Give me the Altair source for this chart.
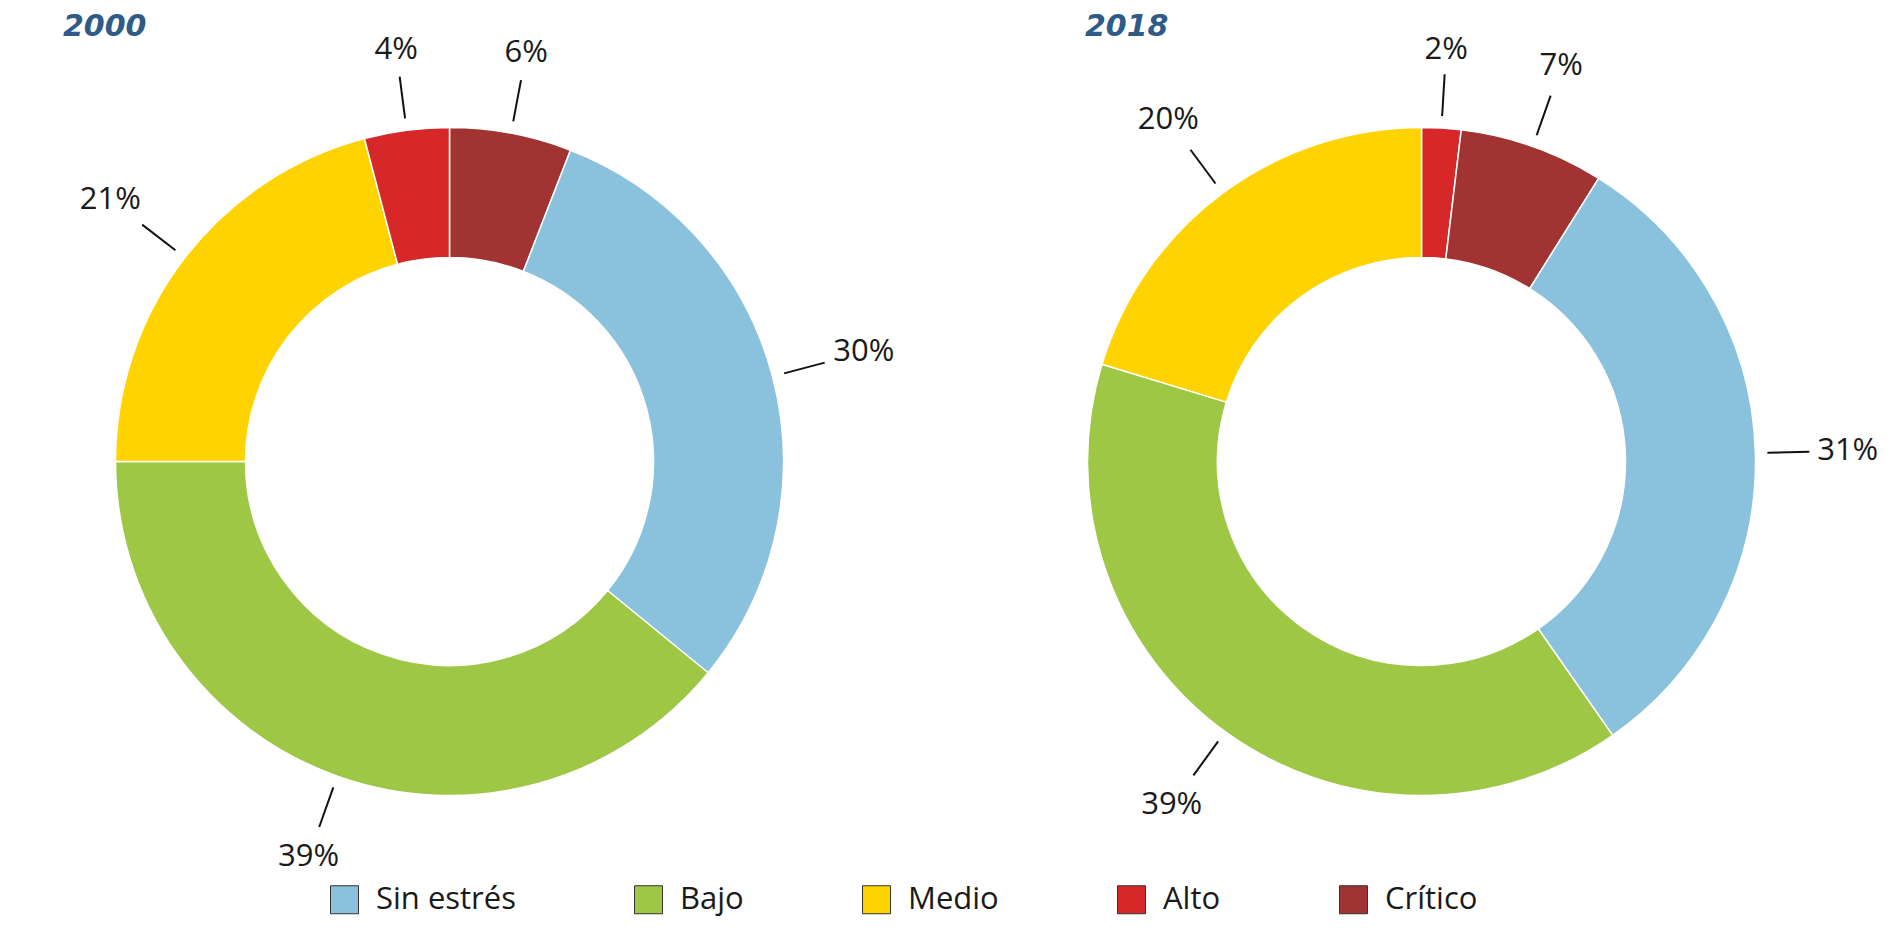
import math
import altair as alt
import numpy as np
import pandas as pd

# ---- data ----
categories = ["Sin estrés", "Bajo", "Medio", "Alto", "Crítico"]
colors = ["#8AC1DC", "#9DC744", "#FFD300", "#D62828", "#A13332"]
share_2000 = [30.0, 39.1, 20.9, 4.1, 5.9]
share_2018 = [31.4, 39.4, 20.3, 1.9, 7.0]
# position of each slice, clockwise from 12 o'clock
order_2000 = [1, 2, 3, 4, 0]
order_2018 = [2, 3, 4, 0, 1]
years = ["2000", "2018"]

# ---- layout constants ----
W, H = 873, 823
R_OUT, R_IN = 334, 204
R_L1, R_L2 = 346, 388      # leader line radii
R_T, HW, HH = 398, 28, 13  # label anchor radius and half text box


def frame(shares, order):
    df = pd.DataFrame({"cat": categories, "share": shares, "ord": order})
    df = df.sort_values("ord").reset_index(drop=True)
    total = df["share"].sum()
    mid = (df["share"].cumsum() - df["share"] / 2) / total * 2 * math.pi
    s, c = np.sin(mid), np.cos(mid)
    df["x1"], df["y1"] = R_L1 * s, R_L1 * c
    df["x2"], df["y2"] = R_L2 * s, R_L2 * c
    rt = R_T + np.abs(s) * HW + np.abs(c) * HH
    df["xt"], df["yt"] = rt * s, rt * c
    df["label"] = [f"{round(v)}%" for v in df["share"]]
    return df


def panel(df, title, dx):
    base = alt.Chart(df)
    xs = alt.Scale(domain=[-W / 2, W / 2], nice=False, zero=False)
    ys = alt.Scale(domain=[-H / 2, H / 2], nice=False, zero=False)
    arcs = base.mark_arc(
        outerRadius=R_OUT, innerRadius=R_IN, stroke="white", strokeWidth=1.5
    ).encode(
        theta=alt.Theta("share:Q", stack=True),
        order=alt.Order("ord:Q"),
        color=alt.Color(
            "cat:N",
            scale=alt.Scale(domain=categories, range=colors),
            legend=alt.Legend(
                title=None,
                orient="none",
                direction="horizontal",
                legendX=316,
                legendY=834,
                symbolType="square",
                symbolSize=784,
                symbolStrokeColor="#333333",
                symbolStrokeWidth=1,
                symbolOpacity=1,
                labelFont="Open Sans",
                labelFontSize=31,
                labelColor="#1a1a1a",
                labelOffset=16,
                columnPadding=116,
                labelLimit=400,
            ),
        ),
    )
    rules = base.mark_rule(color="#111111", strokeWidth=2).encode(
        x=alt.X("x1:Q", scale=xs, axis=None),
        y=alt.Y("y1:Q", scale=ys, axis=None),
        x2="x2:Q",
        y2="y2:Q",
    )
    texts = base.mark_text(
        font="Open Sans", fontSize=31, color="#1a1a1a", align="center", baseline="middle"
    ).encode(
        x=alt.X("xt:Q", scale=xs, axis=None),
        y=alt.Y("yt:Q", scale=ys, axis=None),
        text="label:N",
    )
    return alt.layer(arcs, rules, texts).properties(
        width=W,
        height=H,
        title=alt.Title(
            title,
            anchor="start",
            frame="group",
            dx=dx,
            offset=-8,
            font="DejaVu Sans",
            fontSize=30,
            fontStyle="italic",
            fontWeight="bold",
            color="#2E5B87",
        ),
    )


left = panel(frame(share_2000, order_2000), years[0], 50)
right = panel(frame(share_2018, order_2018), years[1], 100)

chart = (
    alt.hconcat(left, right, spacing=99)
    .resolve_scale(color="shared")
    .properties(bounds="flush", padding={"left": 5, "top": 3, "right": 5, "bottom": 5})
    .configure_view(stroke=None)
)

chart.save("out.html", embed_options={"renderer": "svg", "actions": False})
